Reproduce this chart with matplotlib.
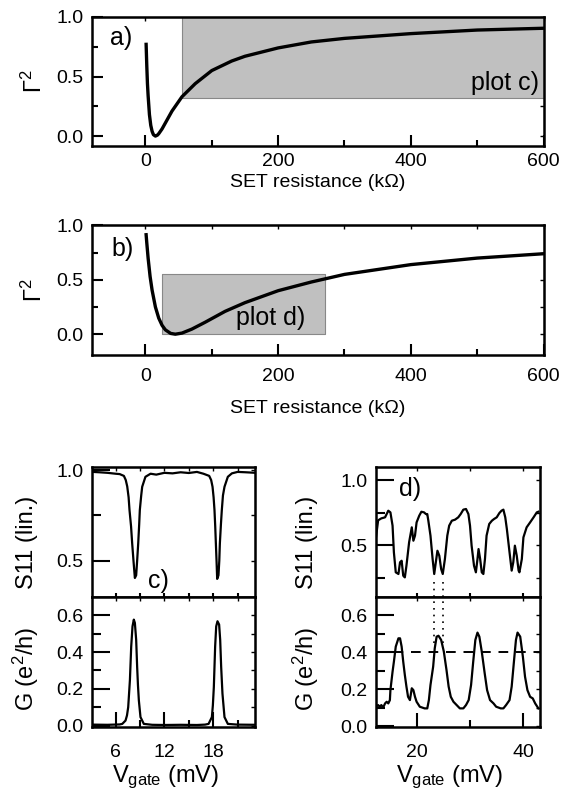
import matplotlib
matplotlib.use("Agg")
import matplotlib.pyplot as plt
from matplotlib.ticker import FixedLocator

plt.rcParams['font.family'] = ['Liberation Sans', 'DejaVu Sans']
plt.rcParams['mathtext.fontset'] = 'custom'
plt.rcParams['mathtext.rm'] = 'Liberation Sans'
plt.rcParams['mathtext.default'] = 'regular'

# panel a) reflection vs SET resistance (kOhm)
res_a = [1, 2, 3, 4, 6, 8, 10, 12, 15, 18, 20, 25, 30, 40, 55, 75, 100, 130, 150,
         200, 250, 300, 400, 500, 600]
gam_a = [0.77, 0.59, 0.44, 0.34, 0.18, 0.09, 0.04, 0.012, 0.0, 0.008, 0.02, 0.06, 0.11,
         0.21, 0.33, 0.44, 0.55, 0.63, 0.67, 0.74, 0.79, 0.82, 0.86, 0.89, 0.905]
box_c = [55, 600, 0.32, 1.0]  # x0, x1, y0, y1 of the shaded "plot c)" region

# panel b)
res_b = [1, 2, 4, 7, 10, 15, 20, 25, 30, 38, 45, 55, 70, 90, 120, 150, 200, 250,
         300, 400, 500, 600]
gam_b = [0.915, 0.84, 0.70, 0.53, 0.405, 0.25, 0.148, 0.082, 0.04, 0.007, 0.0, 0.01,
         0.047, 0.11, 0.21, 0.29, 0.40, 0.48, 0.55, 0.64, 0.70, 0.74]
box_d = [25, 270, 0.0, 0.55]

# panel c) S11 and conductance vs gate voltage (mV)
vc_s = [3.2, 4.0, 5.0, 6.0, 6.5, 7.02, 7.25, 7.43, 7.6, 7.71, 7.9, 8.04, 8.2, 8.37,
        8.53, 8.65, 8.78, 8.9, 8.98, 9.15, 9.27, 9.67, 10.3, 11.0, 12.0, 13.0, 14.0,
        15.0, 16.0, 16.8, 17.51, 17.75, 17.92, 18.05, 18.16, 18.25, 18.33, 18.42,
        18.49, 18.65, 18.75, 18.82, 18.95, 19.06, 19.2, 19.39, 19.8, 20.3, 21.0,
        22.0, 23.2]
s11_c = [0.99, 0.988, 0.985, 0.98, 0.978, 0.968, 0.945, 0.91, 0.85, 0.78, 0.69, 0.595,
         0.50, 0.405, 0.42, 0.50, 0.595, 0.70, 0.78, 0.86, 0.908, 0.963, 0.98, 0.975,
         0.985, 0.982, 0.988, 0.984, 0.99, 0.98, 0.968, 0.945, 0.908, 0.85, 0.779,
         0.69, 0.595, 0.49, 0.40, 0.42, 0.50, 0.595, 0.70, 0.779, 0.86, 0.908, 0.963,
         0.982, 0.99, 0.988, 0.985]
vc_g = [3.2, 5.0, 6.5, 6.82, 7.22, 7.4, 7.55, 7.76, 7.92, 8.08, 8.24, 8.37, 8.53, 8.65,
        8.75, 8.86, 9.06, 9.47, 10.5, 12.0, 14.0, 16.0, 17.0, 17.43, 17.84, 17.96,
        18.08, 18.24, 18.37, 18.53, 18.73, 18.86, 18.98, 19.14, 19.39, 19.8, 21.0, 23.2]
g_c = [0.005, 0.004, 0.006, 0.009, 0.027, 0.055, 0.10, 0.247, 0.43, 0.54, 0.577, 0.559,
       0.467, 0.32, 0.22, 0.137, 0.046, 0.009, 0.004, 0.003, 0.004, 0.003, 0.005, 0.009,
       0.046, 0.11, 0.21, 0.43, 0.54, 0.568, 0.55, 0.467, 0.32, 0.174, 0.046, 0.009,
       0.005, 0.004]

# panel d)
vd_s = [12.4, 12.8, 13.4, 14.1, 14.7, 15.1, 15.5, 15.75, 16.1, 16.6, 16.9, 17.2, 17.5,
        17.8, 18.1, 18.6, 19.1, 19.4, 19.7, 20.0, 20.5, 20.9, 21.4, 21.75, 22.0, 22.2,
        22.6, 23.0, 23.3, 23.6, 23.9, 24.25, 24.6, 24.9, 25.3, 25.75, 26.1, 26.6, 27.2,
        27.8, 28.25, 28.75, 29.25, 29.7, 30.0, 30.3, 30.75, 31.1, 31.4, 31.6, 31.9,
        32.2, 32.5, 32.8, 33.1, 33.6, 34.1, 34.5, 35.0, 35.5, 35.9, 36.25, 36.6, 36.9,
        37.4, 37.8, 38.1, 38.4, 38.75, 39.1, 39.25, 39.7, 40.0, 40.6, 41.25, 41.9,
        42.5, 42.8]
s11_d = [0.56, 0.69, 0.705, 0.713, 0.764, 0.751, 0.649, 0.444, 0.29, 0.277, 0.367, 0.379,
         0.264, 0.251, 0.341, 0.521, 0.636, 0.533, 0.572, 0.674, 0.726, 0.756, 0.751,
         0.738, 0.738, 0.687, 0.572, 0.392, 0.277, 0.367, 0.456, 0.418, 0.315, 0.277,
         0.392, 0.572, 0.649, 0.687, 0.695, 0.713, 0.738, 0.772, 0.777, 0.738, 0.649,
         0.495, 0.341, 0.29, 0.392, 0.469, 0.392, 0.29, 0.277, 0.392, 0.572, 0.662,
         0.687, 0.70, 0.713, 0.746, 0.764, 0.772, 0.713, 0.623, 0.444, 0.303, 0.367,
         0.495, 0.418, 0.303, 0.29, 0.392, 0.559, 0.636, 0.674, 0.713, 0.751, 0.756]
vd_g = [12.4, 12.8, 13.1, 13.4, 13.75, 14.1, 14.4, 14.7, 15.0, 15.1, 15.5, 15.75, 16.1,
        16.6, 16.9, 17.2, 17.5, 17.8, 18.1, 18.4, 18.75, 19.1, 19.4, 19.7, 20.0, 20.6,
        21.5, 21.7, 22.0, 22.3, 22.6, 23.1, 23.4, 23.75, 24.1, 24.6, 25.1, 25.6, 26.0,
        26.4, 26.9, 27.5, 28.1, 28.4, 28.75, 29.25, 29.75, 30.2, 30.6, 31.0, 31.4,
        31.75, 32.2, 32.75, 33.2, 33.75, 34.4, 34.9, 35.75, 36.25, 36.75, 37.4, 37.8,
        38.25, 38.6, 38.9, 39.4, 39.9, 40.3, 40.75, 41.25, 41.75, 42.2, 42.8]
g_d = [0.105, 0.114, 0.105, 0.114, 0.101, 0.123, 0.132, 0.123, 0.141, 0.195, 0.295,
       0.349, 0.431, 0.476, 0.476, 0.431, 0.349, 0.277, 0.214, 0.159, 0.141, 0.205,
       0.195, 0.159, 0.132, 0.105, 0.096, 0.096, 0.096, 0.141, 0.223, 0.322, 0.422,
       0.485, 0.49, 0.467, 0.404, 0.304, 0.214, 0.159, 0.132, 0.114, 0.096, 0.096,
       0.096, 0.114, 0.141, 0.223, 0.349, 0.467, 0.507, 0.485, 0.404, 0.286, 0.195,
       0.141, 0.123, 0.105, 0.096, 0.096, 0.114, 0.141, 0.214, 0.358, 0.467, 0.507,
       0.485, 0.376, 0.268, 0.195, 0.159, 0.15, 0.123, 0.096]
g_level = 0.4
dip_lines = [23.3, 24.95]  # dotted guides linking S11 dips and G peak


def style(ax, xmaj, xmin, ymaj, ymin, xlen, ylen, xpad, side=3):
    ax.xaxis.set_major_locator(FixedLocator(xmaj))
    ax.xaxis.set_minor_locator(FixedLocator(xmin))
    ax.yaxis.set_major_locator(FixedLocator(ymaj))
    ax.yaxis.set_minor_locator(FixedLocator(ymin))
    ax.tick_params(which='both', direction='in', width=1.5, labelsize=14)
    ax.tick_params(axis='x', which='major', length=xlen[0], pad=xpad)
    ax.tick_params(axis='x', which='minor', length=xlen[1])
    ax.tick_params(axis='y', which='major', length=ylen[0], pad=6)
    ax.tick_params(axis='y', which='minor', length=ylen[1])
    for s in ax.spines.values():
        s.set_linewidth(1.8)
    # short mirrored ticks on top and right
    sx = ax.secondary_xaxis('top')
    sx.xaxis.set_major_locator(FixedLocator(xmaj))
    sx.xaxis.set_minor_locator(FixedLocator(xmin))
    sx.tick_params(which='both', direction='in', length=side, width=1.0,
                   labeltop=False)
    sy = ax.secondary_yaxis('right')
    sy.yaxis.set_major_locator(FixedLocator(ymaj))
    sy.yaxis.set_minor_locator(FixedLocator(ymin))
    sy.tick_params(which='both', direction='in', length=side, width=1.0,
                   labelright=False)


fig = plt.figure(figsize=(5.69, 7.99), dpi=100)

# ---- a) ----
ax_a = fig.add_axes([0.1612, 0.8173, 0.794, 0.1615])
ax_a.fill_between(box_c[:2], box_c[2], box_c[3], facecolor='#c0c0c0',
                  edgecolor='#888888', linewidth=0.8)
ax_a.plot(res_a, gam_a, color='black', lw=2.4)
ax_a.set_xlim(-81, 600)
ax_a.set_ylim(-0.083, 1.0)
style(ax_a, [0, 200, 400, 600], [100, 300, 500], [0, 0.5, 1.0], [0.25, 0.75],
      (8, 4.5), (8, 4.5), 5)
ax_a.set_yticklabels(['0.0', '0.5', '1.0'])
ax_a.set_ylabel('Γ$^2$', fontsize=17)
ax_a.yaxis.set_label_coords(-0.10, 0.5)
ax_a.set_xlabel('SET resistance (kΩ)', fontsize=14)
ax_a.xaxis.set_label_coords(0.5, -0.215)
ax_a.text(0.04, 0.84, 'a)', transform=ax_a.transAxes, fontsize=18, va='center')
ax_a.text(0.99, 0.49, 'plot c)', transform=ax_a.transAxes, fontsize=18,
          va='center', ha='right')

# ---- b) ----
ax_b = fig.add_axes([0.1612, 0.5563, 0.794, 0.1615])
ax_b.fill_between(box_d[:2], box_d[2], box_d[3], facecolor='#c0c0c0',
                  edgecolor='#888888', linewidth=0.8)
ax_b.plot(res_b, gam_b, color='black', lw=2.4)
ax_b.set_xlim(-81, 600)
ax_b.set_ylim(-0.187, 1.0)
style(ax_b, [0, 200, 400, 600], [100, 300, 500], [0, 0.5, 1.0], [0.25, 0.75],
      (8, 4.5), (8, 4.5), 10)
ax_b.set_yticklabels(['0.0', '0.5', '1.0'])
ax_b.set_ylabel('Γ$^2$', fontsize=17)
ax_b.yaxis.set_label_coords(-0.10, 0.5)
ax_b.set_xlabel('SET resistance (kΩ)', fontsize=14)
ax_b.xaxis.set_label_coords(0.5, -0.355)
ax_b.text(0.044, 0.815, 'b)', transform=ax_b.transAxes, fontsize=18, va='center')
ax_b.text(188, 0.15, 'plot d)', fontsize=18, va='center', ha='center')

# ---- c) ----
ax_c1 = fig.add_axes([0.1617, 0.2528, 0.2873, 0.1627])
ax_c2 = fig.add_axes([0.1617, 0.0901, 0.2873, 0.1627], sharex=ax_c1)
ax_c1.plot(vc_s, s11_c, color='black', lw=1.6)
ax_c2.plot(vc_g, g_c, color='black', lw=1.6)
ax_c1.set_xlim(3.1, 23.2)
ax_c1.set_ylim(0.3, 1.017)
ax_c2.set_ylim(-0.008, 0.7)
style(ax_c1, [6, 12, 18], [9, 15, 21], [0.5, 1.0], [0.75], (3, 3), (13, 6.5), 12)
style(ax_c2, [6, 12, 18], [9, 15, 21], [0.0, 0.2, 0.4, 0.6], [0.1, 0.3, 0.5],
      (11, 5), (13, 6.5), 12)
ax_c1.tick_params(labelbottom=False)
ax_c1.set_yticklabels(['0.5', '1.0'])
ax_c2.set_yticklabels(['0.0', '0.2', '0.4', '0.6'])
ax_c1.set_ylabel('S11 (lin.)', fontsize=17)
ax_c2.set_ylabel('G (e$^2$/h)', fontsize=17)
ax_c1.yaxis.set_label_coords(-0.33, 0.42)
ax_c2.yaxis.set_label_coords(-0.31, 0.45)
ax_c2.set_xlabel('V$_{gate}$ (mV)', fontsize=17)
ax_c2.xaxis.set_label_coords(0.45, -0.28)
ax_c1.text(0.34, 0.12, 'c)', transform=ax_c1.transAxes, fontsize=18, va='center')

# ---- d) ----
ax_d1 = fig.add_axes([0.6608, 0.2528, 0.2882, 0.1627])
ax_d2 = fig.add_axes([0.6608, 0.0901, 0.2882, 0.1627], sharex=ax_d1)
ax_d1.plot(vd_s, s11_d, color='black', lw=1.6)
ax_d2.plot(vd_g, g_d, color='black', lw=1.6)
ax_d2.axhline(g_level, color='black', lw=1.4, ls=(0, (5, 4)))
ax_d1.vlines(dip_lines, 0.1, 0.235, colors='black', lw=1.2, linestyles=(0, (1, 3)))
ax_d2.vlines(dip_lines, 0.45, 0.7, colors='black', lw=1.2, linestyles=(0, (1, 3)))
ax_d1.set_xlim(12.4, 43.1)
ax_d1.set_ylim(0.1, 1.1)
ax_d2.set_ylim(-0.005, 0.7)
style(ax_d1, [20, 40], [30], [0.5, 1.0], [0.25, 0.75], (3, 3), (13, 6.5), 12)
style(ax_d2, [20, 40], [30], [0.0, 0.2, 0.4, 0.6], [0.1, 0.3, 0.5],
      (10, 5), (13, 6.5), 12)
ax_d1.tick_params(labelbottom=False)
ax_d1.set_yticklabels(['0.5', '1.0'])
ax_d2.set_yticklabels(['0.0', '0.2', '0.4', '0.6'])
ax_d1.set_ylabel('S11 (lin.)', fontsize=17)
ax_d2.set_ylabel('G (e$^2$/h)', fontsize=17)
ax_d1.yaxis.set_label_coords(-0.355, 0.42)
ax_d2.yaxis.set_label_coords(-0.335, 0.45)
ax_d2.set_xlabel('V$_{gate}$ (mV)', fontsize=17)
ax_d2.xaxis.set_label_coords(0.45, -0.28)
ax_d1.text(0.14, 0.83, 'd)', transform=ax_d1.transAxes, fontsize=18, va='center')

fig.savefig('out.png', dpi=100)
